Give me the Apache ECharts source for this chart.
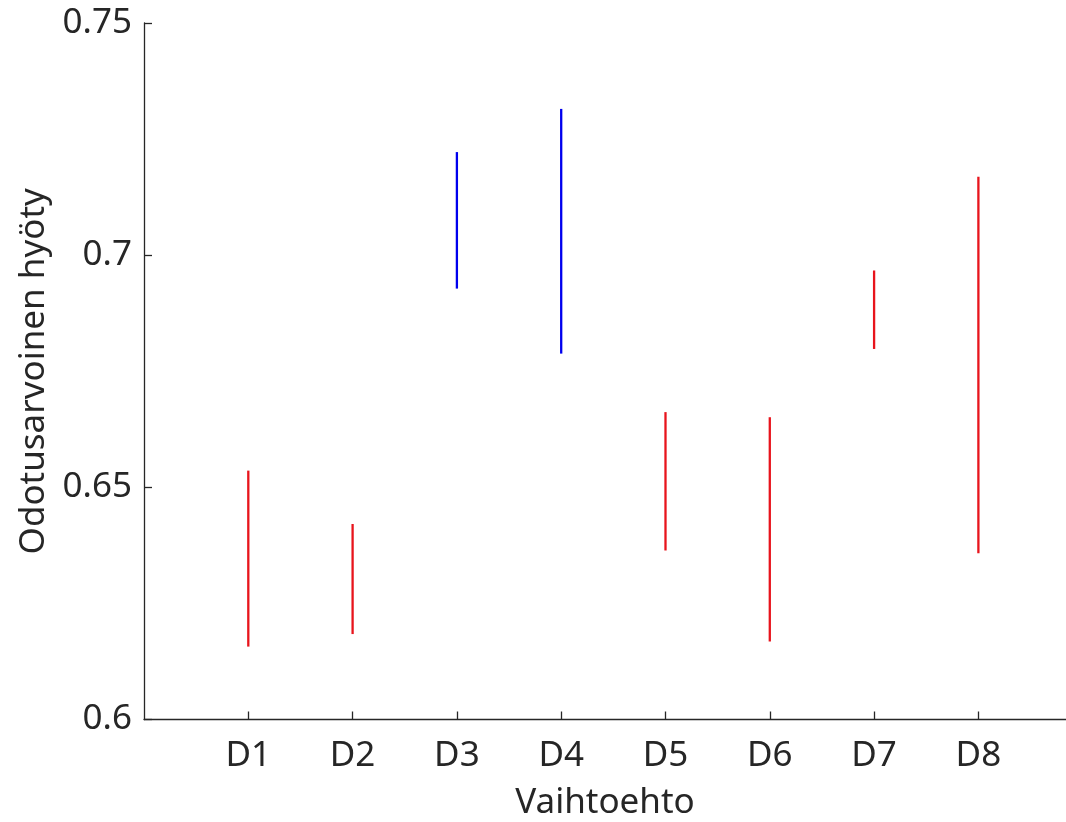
<!DOCTYPE html>
<html>
<head>
<meta charset="utf-8">
<script src="https://cdn.jsdelivr.net/npm/echarts@6/dist/echarts.min.js"></script>
<style>
html,body{margin:0;padding:0;background:#fff;}
#chart{width:1066px;height:822px;}
</style>
</head>
<body>
<div id="chart"></div>
<script>
// Alternatives (x positions 1..8) and their expected-utility intervals
const alternatives = ['D1', 'D2', 'D3', 'D4', 'D5', 'D6', 'D7', 'D8'];
const lowValues  = [0.6157, 0.6184, 0.6928, 0.6788, 0.6364, 0.6168, 0.6798, 0.6358];
const highValues = [0.6536, 0.6421, 0.7222, 0.7315, 0.6662, 0.6651, 0.6967, 0.7169];
const highlighted = [false, false, true, true, false, false, false, false];
const yTicks = [0.6, 0.65, 0.7, 0.75];
const xRange = [0, 8.84];

const FONT = '"Noto Sans", "Liberation Sans", Arial, sans-serif';
const AXIS_COLOR = '#262626';

const data = alternatives.map((c, i) => [i + 1, lowValues[i], highValues[i], highlighted[i] ? 1 : 0]);

const chart = echarts.init(document.getElementById('chart'), null, {renderer: 'canvas'});
chart.setOption({
  animation: false,
  backgroundColor: '#ffffff',
  grid: {left: 144, top: 23, right: 0, bottom: 102.5, containLabel: false, outerBoundsMode: 'none'},
  xAxis: {
    type: 'value',
    min: xRange[0],
    max: xRange[1],
    interval: 1,
    name: 'Vaihtoehto',
    nameLocation: 'middle',
    nameGap: 66,
    nameTextStyle: {fontFamily: FONT, fontSize: 35, color: AXIS_COLOR},
    axisLine: {show: true, onZero: false, lineStyle: {color: AXIS_COLOR, width: 1.3}},
    axisTick: {show: true, inside: true, length: 8, lineStyle: {color: AXIS_COLOR, width: 1.3}},
    axisLabel: {show: true, fontFamily: FONT, fontSize: 35, color: AXIS_COLOR, margin: 19,
                showMinLabel: false, showMaxLabel: false,
                formatter: function (v) {
                  const i = Math.round(v);
                  return (Math.abs(v - i) < 1e-6 && i >= 1 && i <= alternatives.length) ? alternatives[i - 1] : '';
                }},
    splitLine: {show: false}
  },
  yAxis: {
    type: 'value',
    min: yTicks[0],
    max: yTicks[yTicks.length - 1],
    interval: 0.05,
    name: 'Odotusarvoinen hyöty',
    nameLocation: 'middle',
    nameGap: 89,
    nameTextStyle: {fontFamily: FONT, fontSize: 35, color: AXIS_COLOR},
    axisLine: {show: true, onZero: false, lineStyle: {color: AXIS_COLOR, width: 1.3}},
    axisTick: {show: true, inside: true, length: 8, lineStyle: {color: AXIS_COLOR, width: 1.3}},
    axisLabel: {show: true, fontFamily: FONT, fontSize: 35, color: AXIS_COLOR, margin: 12,
                formatter: function (v) { return String(Math.round(v * 100) / 100); }},
    splitLine: {show: false}
  },
  series: [{
    type: 'custom',
    data: data,
    encode: {x: 0, y: [1, 2]},
    renderItem: function (params, api) {
      const x = api.value(0);
      const p1 = api.coord([x, api.value(1)]);
      const p2 = api.coord([x, api.value(2)]);
      return {
        type: 'line',
        shape: {x1: p1[0], y1: p1[1], x2: p2[0], y2: p2[1]},
        style: {stroke: api.value(3) ? '#0000ee' : '#e8141c', lineWidth: 2.3}
      };
    }
  }]
});
</script>
</body>
</html>
